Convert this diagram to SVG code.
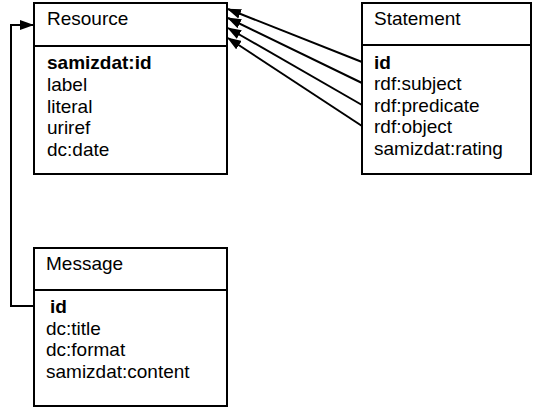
<svg xmlns="http://www.w3.org/2000/svg" width="533" height="408" viewBox="0 0 533 408">
<defs>
<style>
.box{fill:#fff;stroke:#000;stroke-width:2}
.div{stroke:#000;stroke-width:2}
text{font-family:"Liberation Sans",Arial,sans-serif;font-size:19px;fill:#000}
.b{font-weight:bold}
.conn{fill:none;stroke:#000;stroke-width:2}
</style>
<marker id="ah" markerWidth="14" markerHeight="10" refX="13" refY="5" orient="auto" markerUnits="userSpaceOnUse">
<path d="M0,0 L14,5 L0,10 Z" fill="#000"/>
</marker>
</defs>
<rect width="533" height="408" fill="#fff"/>
<g id="resource">
<rect class="box" x="34" y="3" width="193" height="171"/>
<line class="div" x1="34" y1="46" x2="227" y2="46"/>
<text x="47" y="25">Resource</text>
<text x="47" y="69" class="b">samizdat:id</text>
<text x="47" y="91">label</text>
<text x="47" y="112.5">literal</text>
<text x="47" y="134">uriref</text>
<text x="47" y="155.5">dc:date</text>
</g>
<g id="statement">
<rect class="box" x="362" y="3" width="169" height="171"/>
<line class="div" x1="362" y1="45" x2="531" y2="45"/>
<text x="374" y="25">Statement</text>
<text x="374" y="68.5" class="b">id</text>
<text x="374" y="90">rdf:subject</text>
<text x="374" y="111.5">rdf:predicate</text>
<text x="374" y="133">rdf:object</text>
<text x="374" y="154.5">samizdat:rating</text>
</g>
<g id="message">
<rect class="box" x="34" y="248" width="193" height="158"/>
<line class="div" x1="34" y1="290" x2="227" y2="290"/>
<text x="46" y="270">Message</text>
<text x="50" y="313" class="b">id</text>
<text x="46" y="335">dc:title</text>
<text x="46" y="356">dc:format</text>
<text x="46" y="377.5">samizdat:content</text>
</g>
<g id="connectors">
<path class="conn" d="M34,306 H11 V25 H33" marker-end="url(#ah)"/>
<line class="conn" x1="362" y1="62" x2="228" y2="9" marker-end="url(#ah)"/>
<line class="conn" x1="362" y1="83" x2="228" y2="18" marker-end="url(#ah)"/>
<line class="conn" x1="362" y1="105" x2="228" y2="28" marker-end="url(#ah)"/>
<line class="conn" x1="362" y1="126" x2="228" y2="38" marker-end="url(#ah)"/>
</g>
</svg>
